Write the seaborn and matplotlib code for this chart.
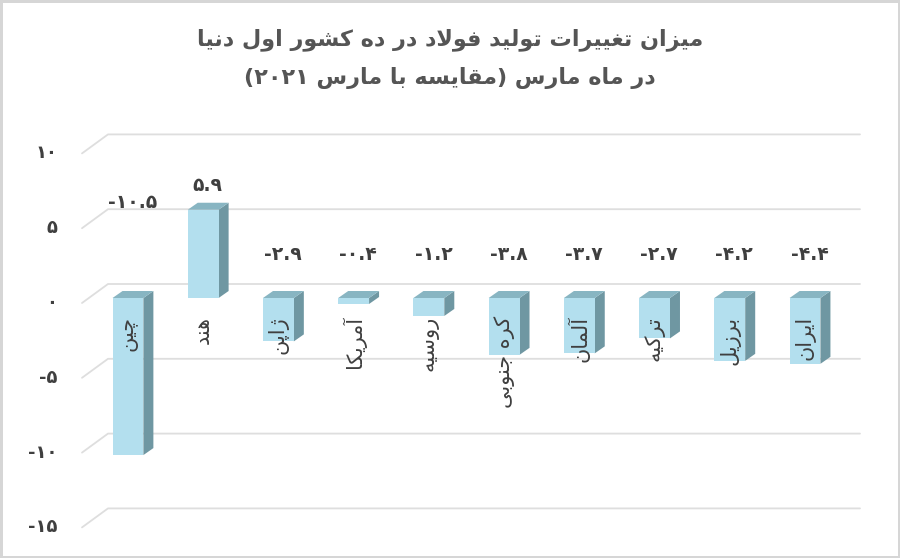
import re
import matplotlib
matplotlib.use("Agg")
import matplotlib.pyplot as plt
import matplotlib.transforms as mtransforms
from matplotlib.patches import Polygon
import seaborn as sns

# ---------------- data ----------------
countries = ["چین", "هند", "ژاپن", "آمریکا", "روسیه", "کره جنوبی", "آلمان", "ترکیه", "برزیل", "ایران"]
changes = [-10.5, 5.9, -2.9, -0.4, -1.2, -3.8, -3.7, -2.7, -4.2, -4.4]
value_labels = ["-۱۰.۵", "۵.۹", "-۲.۹", "-۰.۴", "-۱.۲", "-۳.۸", "-۳.۷", "-۲.۷", "-۴.۲", "-۴.۴"]
y_ticks = [10, 5, 0, -5, -10, -15]
y_tick_labels = ["۱۰", "۵", "۰", "-۵", "-۱۰", "-۱۵"]
title_1 = "میزان تغییرات تولید فولاد در ده کشور اول دنیا"
title_2 = "در ماه مارس (مقایسه با مارس ۲۰۲۱)"

# ---------------- simple persian shaping (matplotlib has no bidi) ----------------
FORMS = {
    "\u0627": ("\uFE8D", "\uFE8E", None, None),
    "\u0622": ("\uFE81", "\uFE82", None, None),
    "\u0628": ("\uFE8F", "\uFE90", "\uFE91", "\uFE92"),
    "\u067E": ("\uFB56", "\uFB57", "\uFB58", "\uFB59"),
    "\u062A": ("\uFE95", "\uFE96", "\uFE97", "\uFE98"),
    "\u062C": ("\uFE9D", "\uFE9E", "\uFE9F", "\uFEA0"),
    "\u0686": ("\uFB7A", "\uFB7B", "\uFB7C", "\uFB7D"),
    "\u062F": ("\uFEA9", "\uFEAA", None, None),
    "\u0631": ("\uFEAD", "\uFEAE", None, None),
    "\u0632": ("\uFEAF", "\uFEB0", None, None),
    "\u0698": ("\uFB8A", "\uFB8B", None, None),
    "\u0633": ("\uFEB1", "\uFEB2", "\uFEB3", "\uFEB4"),
    "\u0634": ("\uFEB5", "\uFEB6", "\uFEB7", "\uFEB8"),
    "\u063A": ("\uFECD", "\uFECE", "\uFECF", "\uFED0"),
    "\u0641": ("\uFED1", "\uFED2", "\uFED3", "\uFED4"),
    "\u0642": ("\uFED5", "\uFED6", "\uFED7", "\uFED8"),
    "\u06A9": ("\uFB8E", "\uFB8F", "\uFB90", "\uFB91"),
    "\u0644": ("\uFEDD", "\uFEDE", "\uFEDF", "\uFEE0"),
    "\u0645": ("\uFEE1", "\uFEE2", "\uFEE3", "\uFEE4"),
    "\u0646": ("\uFEE5", "\uFEE6", "\uFEE7", "\uFEE8"),
    "\u0647": ("\uFEE9", "\uFEEA", "\uFEEB", "\uFEEC"),
    "\u0648": ("\uFEED", "\uFEEE", None, None),
    "\u06CC": ("\uFBFC", "\uFBFD", "\uFBFE", "\uFBFF"),
}


def shape(text):
    text = text.replace("\u064A", "\u06CC").replace("\u0643", "\u06A9")
    out = []
    i = 0
    while i < len(text):
        c = text[i]
        if c not in FORMS:
            out.append(c)
            i += 1
            continue
        prev = text[i - 1] if i > 0 else None
        nxt = text[i + 1] if i + 1 < len(text) else None
        joins_prev = prev in FORMS and FORMS[prev][2] is not None
        if c == "\u0644" and nxt == "\u0627":
            out.append("\uFEFC" if joins_prev else "\uFEFB")
            i += 2
            continue
        joins_next = FORMS[c][2] is not None and nxt in FORMS
        iso, fin, ini, med = FORMS[c]
        if joins_prev and joins_next:
            out.append(med)
        elif joins_prev:
            out.append(fin)
        elif joins_next:
            out.append(ini)
        else:
            out.append(iso)
        i += 1
    return "".join(out)


def rtl(text):
    vis = shape(text)[::-1]
    vis = re.sub(r"[0-9\u06F0-\u06F9.]+", lambda m: m.group(0)[::-1], vis)
    return vis.translate(str.maketrans("()", ")("))


# ---------------- figure ----------------
sns.set_style("white")
plt.rcParams["font.family"] = ["DejaVu Sans"]

W, H = 900, 558
fig = plt.figure(figsize=(9, 5.58), dpi=100)
fig.patch.set_facecolor("white")
fig.patch.set_edgecolor("#d6d6d6")
fig.patch.set_linewidth(2.5)

ax = fig.add_axes([75.3 / W, 35.6 / H, 759.8 / W, 374 / H])
front_c, top_c, side_c = "#b3dfee", "#88b5c2", "#6f97a2"
text_c = "#3f3f3f"

sns.barplot(x=countries, y=changes, order=countries, color=front_c,
            width=0.41, saturation=1, edgecolor="none", ax=ax, zorder=3)
ax.set_xlim(-0.7, 9.4)
ax.set_ylim(-15, 10)
ax.axis("off")


def px_off(dx, dy):
    return mtransforms.ScaledTranslation(dx / 100, dy / 100, fig.dpi_scale_trans)


# 3d depth for each bar, built from the bar patches
dx = 10 / 75.22
dy = 7 / 14.96
for p in ax.patches:
    x0, w = p.get_x(), p.get_width()
    y_lo = min(p.get_y(), p.get_y() + p.get_height())
    y_hi = max(p.get_y(), p.get_y() + p.get_height())
    side = Polygon([(x0 + w, y_lo), (x0 + w, y_hi), (x0 + w + dx, y_hi + dy), (x0 + w + dx, y_lo + dy)],
                   closed=True, facecolor=side_c, edgecolor="none", zorder=2)
    top = Polygon([(x0, y_hi), (x0 + w, y_hi), (x0 + w + dx, y_hi + dy), (x0 + dx, y_hi + dy)],
                  closed=True, facecolor=top_c, edgecolor="none", zorder=2)
    ax.add_patch(side)
    ax.add_patch(top)

# back wall grid lines with the slanted floor edge
fig.canvas.draw()
for v in y_ticks:
    yb = ax.transData.transform((0, v))[1]
    xs = [82 / W, 108 / W, 860 / W]
    ys = [(yb - 5) / H, (yb + 14) / H, (yb + 14) / H]
    ax.plot(xs, ys, color="#dedede", lw=1.3, transform=fig.transFigure, clip_on=False, zorder=0.5)

# y tick labels (front plane)
tick_tr = mtransforms.blended_transform_factory(fig.transFigure, ax.transData) + px_off(0, -5)
for v, lab in zip(y_ticks, y_tick_labels):
    ax.text(57 / W, v, lab, transform=tick_tr, ha="right", va="center",
            fontsize=13, fontweight="bold", color=text_c, clip_on=False)

# value labels above bars
label_y = [v + 1.65 if v > 0 else 2.9 for v in changes]
label_y[0] = 6.4  # china label sits higher in the source chart
for i, (ly, lab) in enumerate(zip(label_y, value_labels)):
    ax.text(i + 0.06, ly, lab, ha="center", va="center", fontsize=13.5,
            fontweight="bold", color=text_c, zorder=5)

# country names, rotated, hanging below zero
name_tr = ax.transData + px_off(0, -18)
for i, name in enumerate(countries):
    ax.text(i, 0, rtl(name), rotation=90, ha="center", va="top", fontsize=15,
            color=text_c, transform=name_tr, zorder=5)

fig.text(0.5, 1 - 40 / H, rtl(title_1), ha="center", va="center", fontsize=16,
         fontweight="bold", color="#555555")
fig.text(0.5, 1 - 78 / H, rtl(title_2), ha="center", va="center", fontsize=16,
         fontweight="bold", color="#555555")

fig.savefig("out.png", dpi=100, facecolor=fig.get_facecolor(), edgecolor=fig.get_edgecolor())
